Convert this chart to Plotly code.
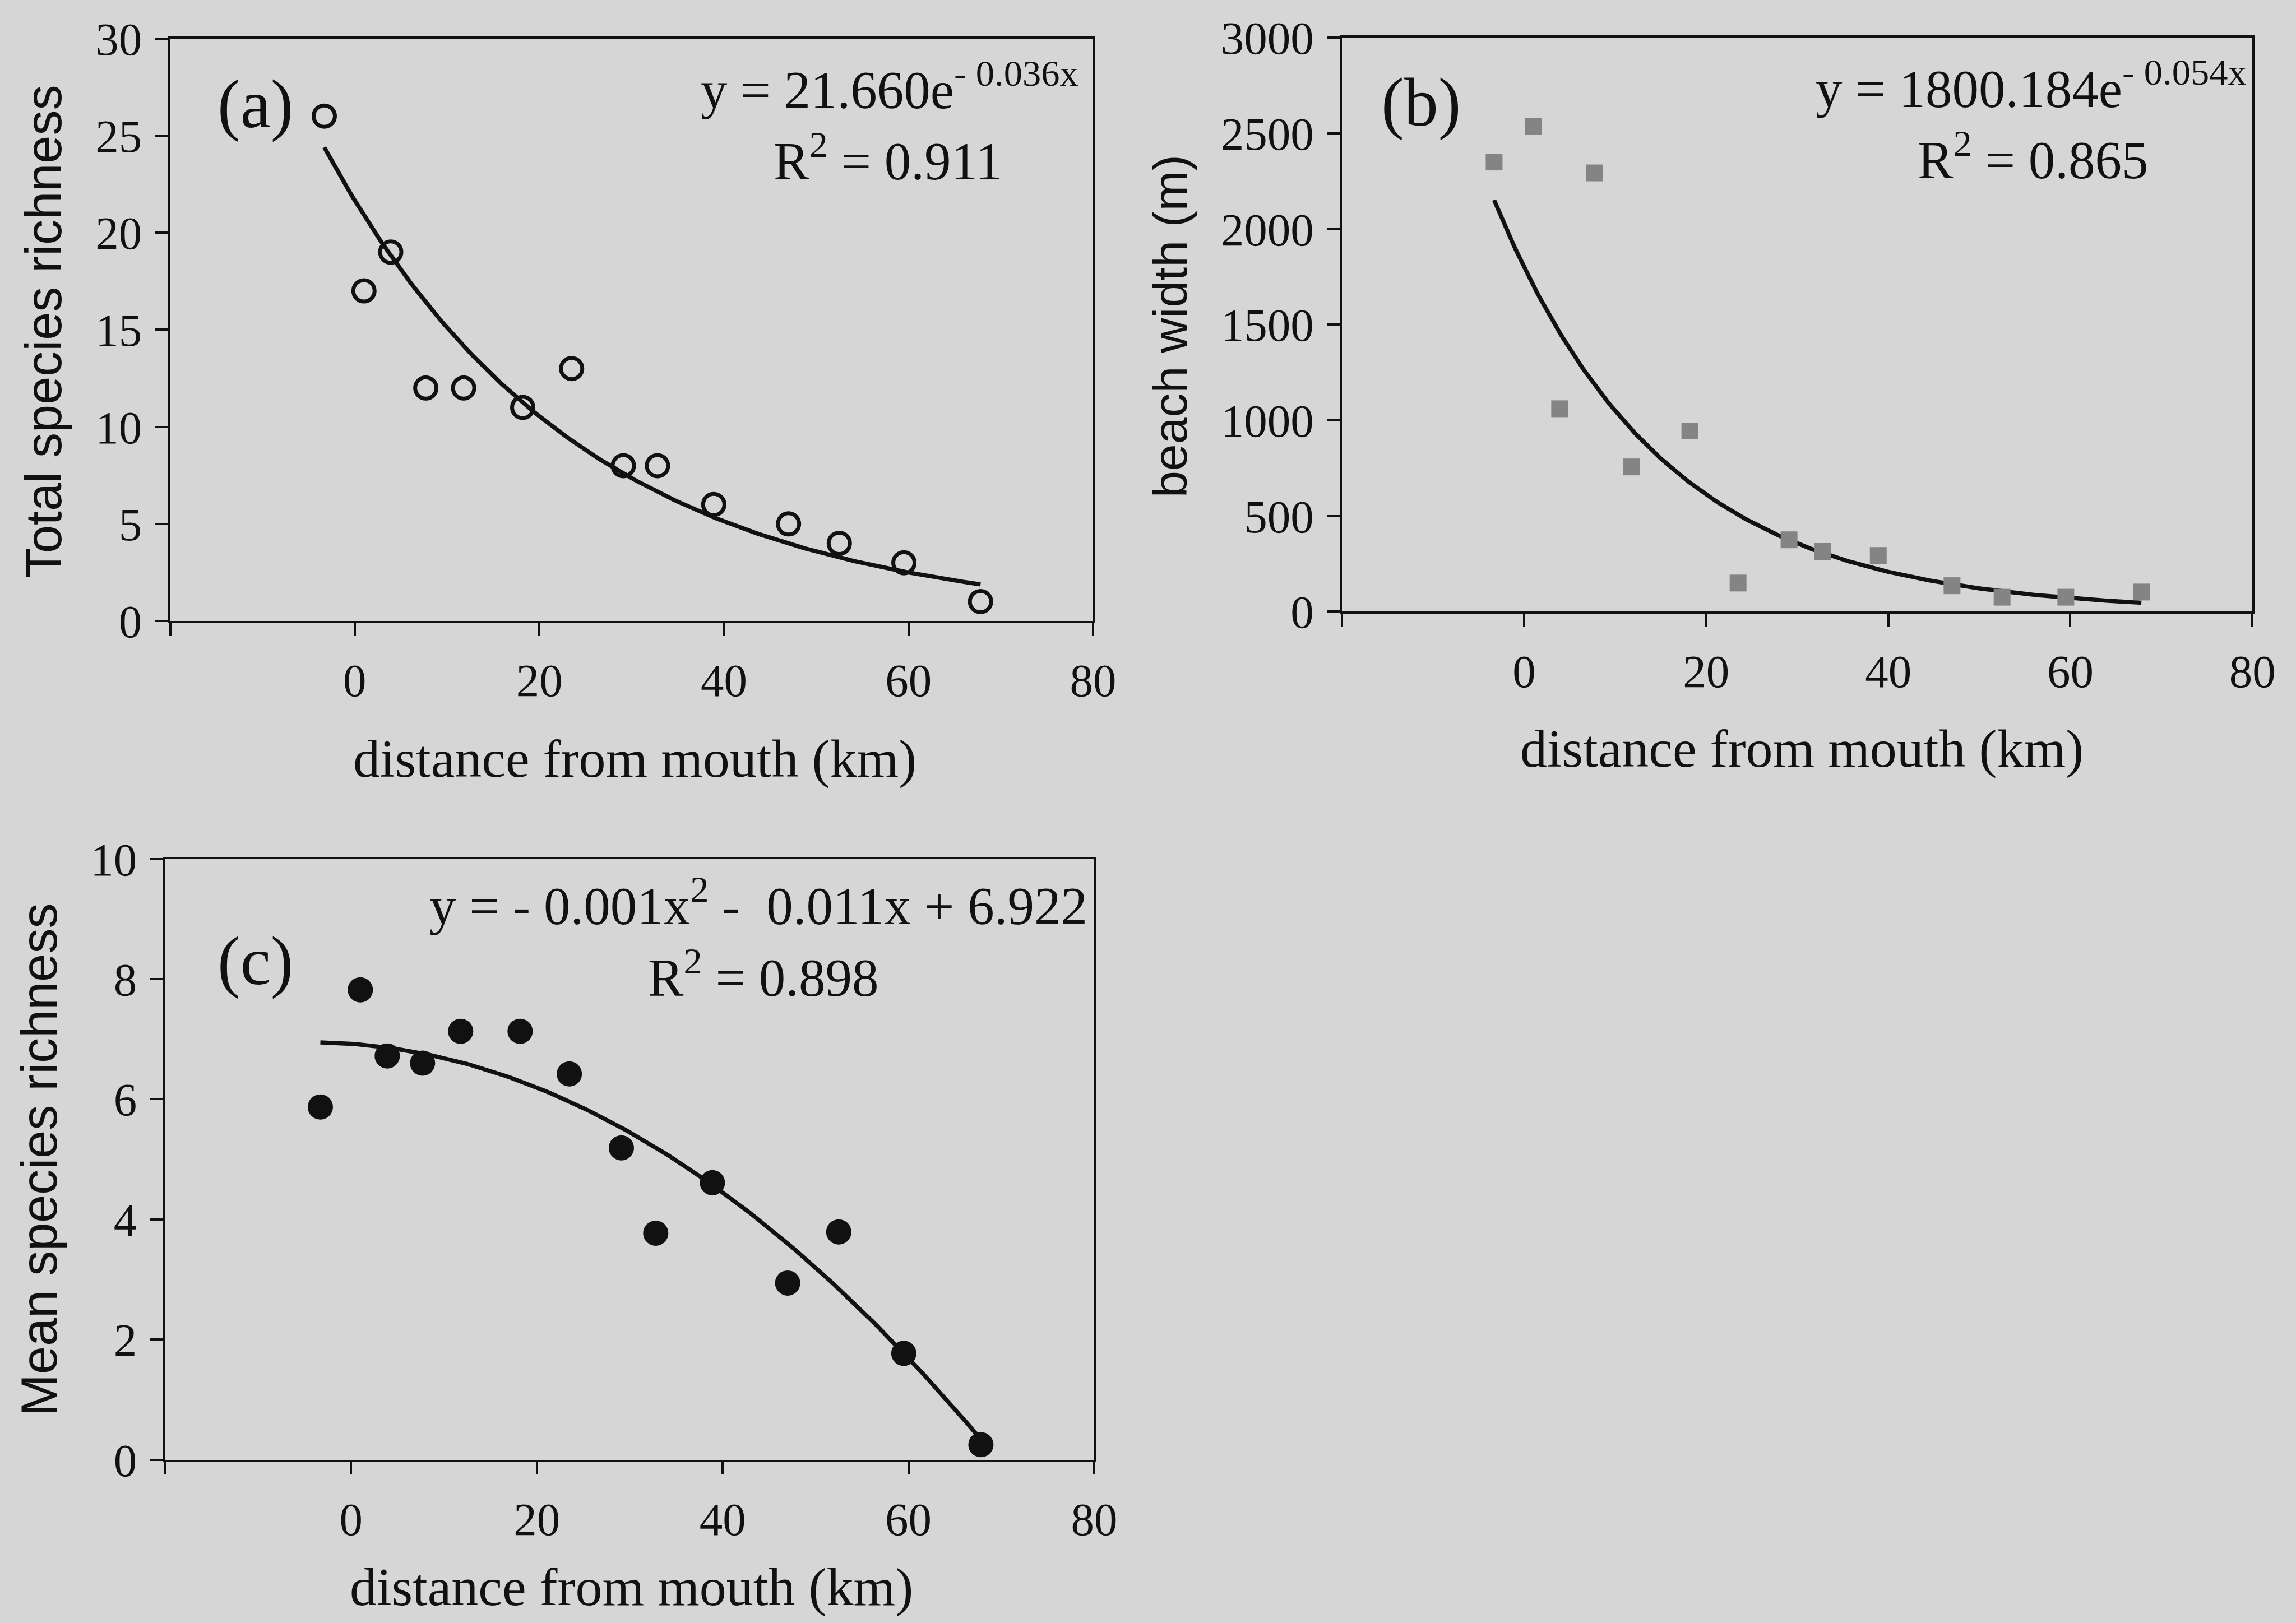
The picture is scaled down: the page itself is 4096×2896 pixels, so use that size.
import numpy as np
import plotly.graph_objects as go

# ---- data -------------------------------------------------------------
distance_km = [-3.3, 1.0, 3.9, 7.7, 11.8, 18.2, 23.5, 29.1, 32.8, 38.9, 47.0, 52.5, 59.5, 67.8]
total_richness = [26, 17, 19, 12, 12, 11, 13, 8, 8, 6, 5, 4, 3, 1]
beach_width_m = [2350, 2536, 1060, 2293, 756, 944, 149, 375, 314, 293, 135, 75, 75, 102]
mean_richness = [5.87, 7.82, 6.72, 6.60, 7.13, 7.13, 6.42, 5.19, 3.77, 4.61, 2.94, 3.79, 1.77, 0.25]

# trendline coefficients
exp_a = (21.660, -0.036)          # y = a * exp(b x)
exp_b = (1800.184, -0.054)
quad_c = (-0.00127, -0.011, 6.922)  # y = c2 x^2 + c1 x + c0

x_ticks = [-20, 0, 20, 40, 60, 80]
x_tick_text = ["", "0", "20", "40", "60", "80"]
y_ticks_a = [0, 5, 10, 15, 20, 25, 30]
y_ticks_b = [0, 500, 1000, 1500, 2000, 2500, 3000]
y_ticks_c = [0, 2, 4, 6, 8, 10]

# ---- page geometry ----------------------------------------------------
W, H = 4096, 2896
BG = "rgb(214,214,214)"
INK = "#111111"
SERIF = "Liberation Serif, Times New Roman, serif"
SANS = "Liberation Sans, Arial, sans-serif"


def fx(p):
    return p / W


def fy(p):
    return 1 - p / H


xs = np.array(distance_km)
x_line = np.linspace(xs.min(), xs.max(), 200)
fit_a = exp_a[0] * np.exp(exp_a[1] * x_line)
fit_b = exp_b[0] * np.exp(exp_b[1] * x_line)
fit_c = np.polyval(quad_c, x_line)

fig = go.Figure()
LINE_W = 7.5

# (a) total species richness
fig.add_trace(go.Scatter(x=x_line, y=fit_a, mode="lines",
                         line=dict(color=INK, width=LINE_W), xaxis="x", yaxis="y",
                         showlegend=False, hoverinfo="skip"))
fig.add_trace(go.Scatter(x=distance_km, y=total_richness, mode="markers",
                         marker=dict(symbol="circle-open", size=38, color=INK,
                                     line=dict(width=7, color=INK)),
                         xaxis="x", yaxis="y", showlegend=False, cliponaxis=False))

# (b) beach width
fig.add_trace(go.Scatter(x=x_line, y=fit_b, mode="lines",
                         line=dict(color=INK, width=LINE_W), xaxis="x2", yaxis="y2",
                         showlegend=False, hoverinfo="skip"))
fig.add_trace(go.Scatter(x=distance_km, y=beach_width_m, mode="markers",
                         marker=dict(symbol="square", size=30, color="#848484",
                                     line=dict(width=0)),
                         xaxis="x2", yaxis="y2", showlegend=False, cliponaxis=False))

# (c) mean species richness
fig.add_trace(go.Scatter(x=x_line, y=fit_c, mode="lines",
                         line=dict(color=INK, width=LINE_W), xaxis="x3", yaxis="y3",
                         showlegend=False, hoverinfo="skip"))
fig.add_trace(go.Scatter(x=distance_km, y=mean_richness, mode="markers",
                         marker=dict(symbol="circle", size=45, color=INK),
                         xaxis="x3", yaxis="y3", showlegend=False, cliponaxis=False))

axis_style = dict(showline=True, linecolor=INK, linewidth=3.5, mirror=True,
                  ticks="outside", ticklen=23, tickwidth=3.5, tickcolor=INK,
                  showgrid=False, zeroline=False, automargin=False,
                  tickfont=dict(family=SERIF, size=83, color=INK))


def xaxis(domain, anchor):
    return dict(axis_style, domain=domain, anchor=anchor, range=[-20, 80],
                tickmode="array", tickvals=x_ticks, ticktext=x_tick_text,
                ticklabelstandoff=8)


def yaxis(domain, anchor, rng, ticks):
    return dict(axis_style, domain=domain, anchor=anchor, range=rng,
                tickmode="array", tickvals=ticks, ticklabelstandoff=7)


fig.update_layout(
    template="none",
    width=W, height=H,
    margin=dict(l=0, r=0, t=0, b=0, pad=0, autoexpand=False),
    paper_bgcolor=BG, plot_bgcolor=BG,
    xaxis=xaxis([fx(303.5), fx(1950.1)], "y"),
    yaxis=yaxis([fy(1108.1), fy(68.6)], "x", [0, 30], y_ticks_a),
    xaxis2=xaxis([fx(2394.2), fx(4018.3)], "y2"),
    yaxis2=yaxis([fy(1091.2), fy(67.2)], "x2", [0, 3000], y_ticks_b),
    xaxis3=xaxis([fx(294.7), fx(1952.1)], "y3"),
    yaxis3=yaxis([fy(2604.6), fy(1532.5)], "x3", [0, 10], y_ticks_c),
)


def label(text, x, y, size, family=SERIF, angle=0, anchor="center"):
    fig.add_annotation(text=text, x=fx(x), y=fy(y), xref="paper", yref="paper",
                       xanchor=anchor, yanchor="middle", showarrow=False,
                       textangle=angle, borderpad=0,
                       font=dict(family=family, size=size, color=INK))


# panel letters
label("(a)", 455, 186, 122)
label("(b)", 2535, 183, 122)
label("(c)", 455, 1715, 122)

# trendline equations
label("y = 21.660e<sup>- 0.036x</sup>", 1249, 154, 95, anchor="left")
label("R<sup>2</sup> = 0.911", 1379, 281, 95, anchor="left")
label("y = 1800.184e<sup>- 0.054x</sup>", 3238, 152, 95, anchor="left")
label("R<sup>2</sup> = 0.865", 3420, 279, 95, anchor="left")
label("y = - 0.001x<sup>2</sup> -  0.011x + 6.922", 765, 1610, 95, anchor="left")
label("R<sup>2</sup> = 0.898", 1155, 1738, 95, anchor="left")

# axis titles
label("distance from mouth (km)", 1132, 1353, 96)
label("distance from mouth (km)", 3214, 1335, 96)
label("distance from mouth (km)", 1126, 2831, 96)
label("Total species richness", 78, 592, 90, SANS, -90)
label("beach width (m)", 2087, 582, 86, SANS, -90)
label("Mean species richness", 70, 2070, 90, SANS, -90)

fig.write_html("out.html")
